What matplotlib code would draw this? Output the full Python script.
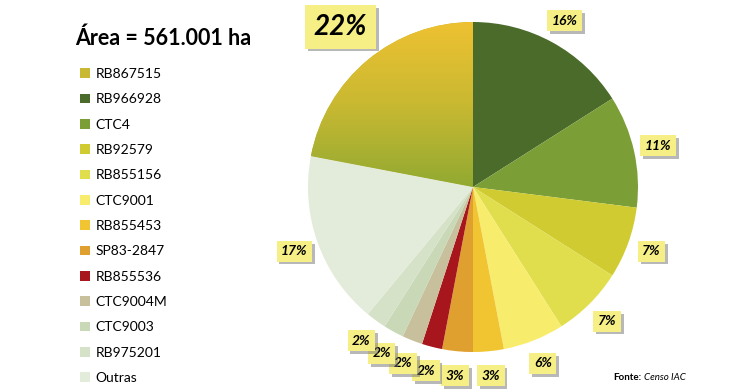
import matplotlib.pyplot as plt
import numpy as np
from matplotlib import patheffects
from matplotlib.colors import LinearSegmentedColormap

plt.rcParams['font.family'] = ['Lato', 'DejaVu Sans']

# dados
variedades = ["RB867515", "RB966928", "CTC4", "RB92579", "RB855156", "CTC9001",
              "RB855453", "SP83-2847", "RB855536", "CTC9004M", "CTC9003",
              "RB975201", "Outras"]
percentuais = [22, 16, 11, 7, 7, 6, 3, 3, 2, 2, 2, 2, 17]
cores = ["#c8b832", "#4a6b2a", "#7b9e36", "#cfcb30", "#e0de4c", "#f8ec6c",
         "#f1c532", "#e0a030", "#a8161d", "#c8c09c", "#c9d8b6", "#d6e2c8",
         "#e3ebda"]

fig = plt.figure(figsize=(7.5, 3.92), dpi=100)
ax = fig.add_axes([308 / 750, 40 / 392, 330 / 750, 330 / 392])

inicio = 90 + percentuais[0] / sum(percentuais) * 360
wedges, _ = ax.pie(percentuais, colors=cores, startangle=inicio,
                   counterclock=False, radius=1)

# degradê da maior fatia (amarelo -> verde oliva)
cmap = LinearSegmentedColormap.from_list("grad", ["#8ca832", "#c9b931", "#f2c232"])
grad = np.linspace(0, 1, 256).reshape(-1, 1)
im = ax.imshow(grad, cmap=cmap, extent=[-1.05, 0.05, -0.05, 1.05],
               origin="lower", aspect="auto", zorder=2)
im.set_clip_path(wedges[0])

ax.set_xlim(-1, 1)
ax.set_ylim(-1, 1)
ax.set_aspect("equal")
ax.axis("off")

# rótulos com caixa amarela
for i, (w, v) in enumerate(zip(wedges, percentuais)):
    ang = np.deg2rad((w.theta1 + w.theta2) / 2)
    big = v == max(percentuais)
    dist = 1.26 if big else 1.15
    t = ax.text(dist * np.cos(ang), dist * np.sin(ang), f"{v}%",
                ha="center", va="center", fontsize=20 if big else 10,
                fontweight="bold", style="italic", color="black", zorder=5 + i,
                bbox=dict(boxstyle="square,pad=0.32", fc="#f5ef86", ec="none"))
    t.get_bbox_patch().set_path_effects([
        patheffects.withSimplePatchShadow(offset=(2, -2), shadow_rgbFace="0.45", alpha=0.5),
        patheffects.Normal()])

fig.text(75 / 750, 1 - 38 / 392, "Área = 561.001 ha", fontsize=15.5,
         fontweight="bold", va="center")

fig.legend(wedges, variedades, loc="upper left",
           bbox_to_anchor=(80 / 750, 1 - 68 / 392), frameon=False,
           fontsize=10, handlelength=0.75, handleheight=0.7, handletextpad=0.35,
           labelspacing=0.96, borderpad=0, borderaxespad=0)

fig.text(613 / 750, 1 - 377 / 392, "Fonte:", fontsize=7, fontweight="bold",
         va="center")
fig.text(644 / 750, 1 - 377 / 392, "Censo IAC", fontsize=7, style="italic",
         va="center")

fig.savefig("out.png", dpi=100)
